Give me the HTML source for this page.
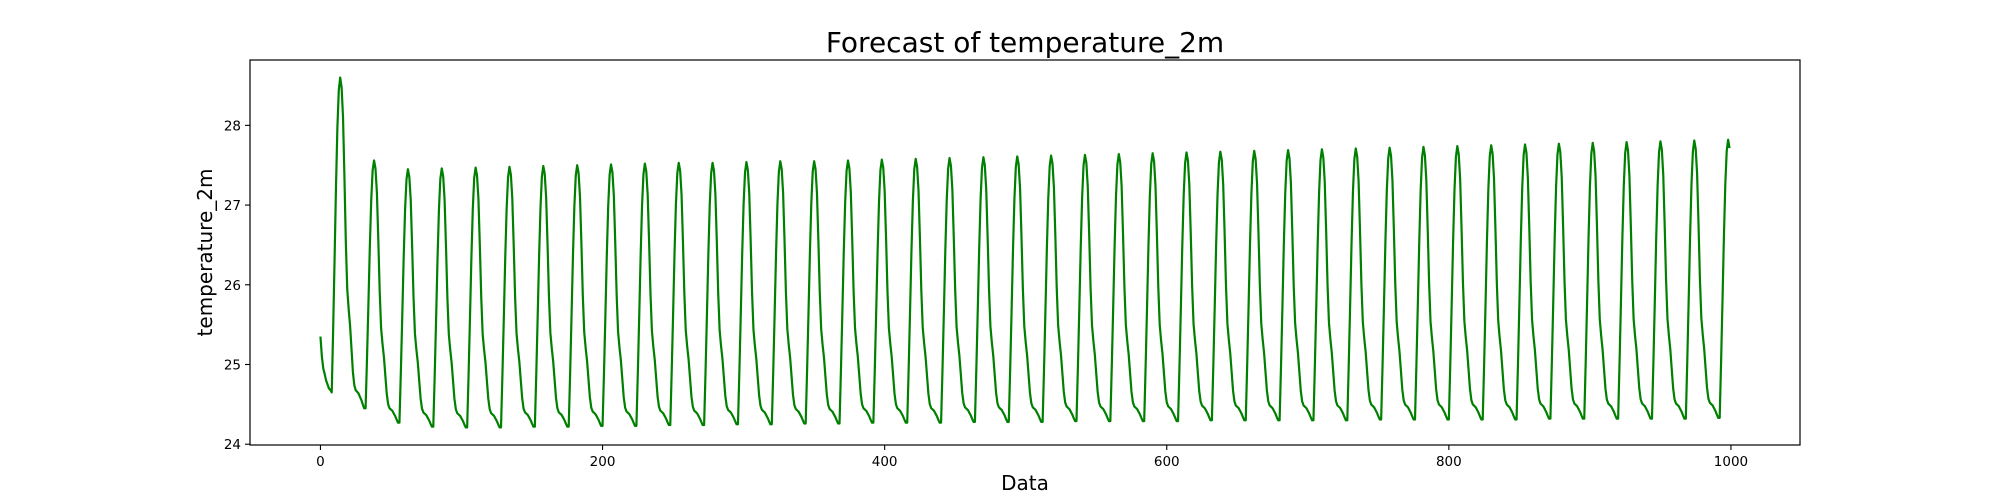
<!DOCTYPE html>
<html><head><meta charset="utf-8">
<style>
html,body{margin:0;padding:0;background:#fff;}
svg{display:block;font-family:"DejaVu Sans","Liberation Sans",sans-serif;}
</style></head>
<body>
<svg id="chart" width="2000" height="500" viewBox="0 0 2000 500">
  <text x="1025" y="52" text-anchor="middle" font-size="28" fill="#000">Forecast of temperature_2m</text>
  <g id="ticks"></g>
  <path id="line" fill="none" stroke="#008000" stroke-width="2.2" stroke-linejoin="round"></path>
  <rect x="250" y="60" width="1550" height="385" fill="none" stroke="#000" stroke-width="1.2"></rect>
  <text x="1025" y="490" text-anchor="middle" font-size="20" fill="#000">Data</text>
  <text x="0" y="0" transform="translate(212,252.5) rotate(-90)" text-anchor="middle" font-size="20" fill="#000">temperature_2m</text>
</svg>
<script>
const xTicks = [0, 200, 400, 600, 800, 1000];
const yTicks = [24, 25, 26, 27, 28];
const leadValues = [25.35, 25.1, 24.95, 24.88, 24.8, 24.75, 24.7, 24.68];
const dailyShape = [0, 0.2, 0.42, 0.65, 0.84, 0.96, 1.0, 0.97, 0.88, 0.7, 0.5, 0.36, 0.3, 0.25, 0.18, 0.11, 0.07, 0.055, 0.05, 0.045, 0.035, 0.025, 0.012, 0.0];
const dailyPeaks = [28.6,27.56,27.45,27.46,27.47,27.48,27.49,27.50,27.51,27.52,27.53,27.53,27.54,27.55,27.55,27.56,27.57,27.58,27.59,27.60,27.61,27.62,27.63,27.64,27.65,27.66,27.67,27.68,27.69,27.70,27.71,27.72,27.73,27.74,27.75,27.76,27.77,27.78,27.79,27.80,27.81,27.82];
const dailyMins = [24.65,24.45,24.27,24.22,24.21,24.21,24.22,24.22,24.23,24.23,24.24,24.24,24.25,24.25,24.26,24.26,24.27,24.27,24.27,24.28,24.28,24.28,24.29,24.29,24.29,24.29,24.3,24.3,24.3,24.3,24.3,24.31,24.31,24.31,24.31,24.31,24.32,24.32,24.32,24.32,24.32,24.33,24.33];
const nPoints = 1000;

const L=250,R=1800,T=60,B=445;
const xmin=-49.95,xmax=1048.95,ymin=23.99,ymax=28.82;
function xs(v){return L+(v-xmin)/(xmax-xmin)*(R-L);}
function ys(v){return B-(v-ymin)/(ymax-ymin)*(B-T);}

const series=[];
for(const v of leadValues) series.push(v);
let d=0;
while(series.length<nPoints){
  for(let h=0;h<dailyShape.length && series.length<nPoints;h++){
    const pk=dailyPeaks[Math.min(d,dailyPeaks.length-1)];
    const lo=h<6?dailyMins[Math.min(d,dailyMins.length-1)]:dailyMins[Math.min(d+1,dailyMins.length-1)];
    series.push(lo+(pk-lo)*dailyShape[h]);
  }
  d++;
}
let p='';
series.forEach((v,i)=>{p+=(i?'L':'M')+xs(i).toFixed(2)+' '+ys(v).toFixed(2);});
document.getElementById('line').setAttribute('d',p);

const g=document.getElementById('ticks');
const NS='http://www.w3.org/2000/svg';
xTicks.forEach(t=>{
  const l=document.createElementNS(NS,'line');
  l.setAttribute('x1',xs(t));l.setAttribute('x2',xs(t));l.setAttribute('y1',B);l.setAttribute('y2',B+5);
  l.setAttribute('stroke','#000');l.setAttribute('stroke-width','1.1');
  
  
  g.appendChild(l);
  const tx=document.createElementNS(NS,'text');
  tx.setAttribute('x',xs(t));tx.setAttribute('y',B+21);tx.setAttribute('text-anchor','middle');tx.setAttribute('font-size','13.5');
  tx.textContent=t;
  
  
  g.appendChild(tx);
});
yTicks.forEach(t=>{
  const l=document.createElementNS(NS,'line');
  l.setAttribute('x1',L-5);l.setAttribute('x2',L);l.setAttribute('y1',ys(t));l.setAttribute('y2',ys(t));
  l.setAttribute('stroke','#000');l.setAttribute('stroke-width','1.1');
  
  
  g.appendChild(l);
  const tx=document.createElementNS(NS,'text');
  tx.setAttribute('x',L-9);tx.setAttribute('y',ys(t)+5);tx.setAttribute('text-anchor','end');tx.setAttribute('font-size','13.5');
  tx.textContent=t;
  
  
  g.appendChild(tx);
});
</script>
</body></html>
